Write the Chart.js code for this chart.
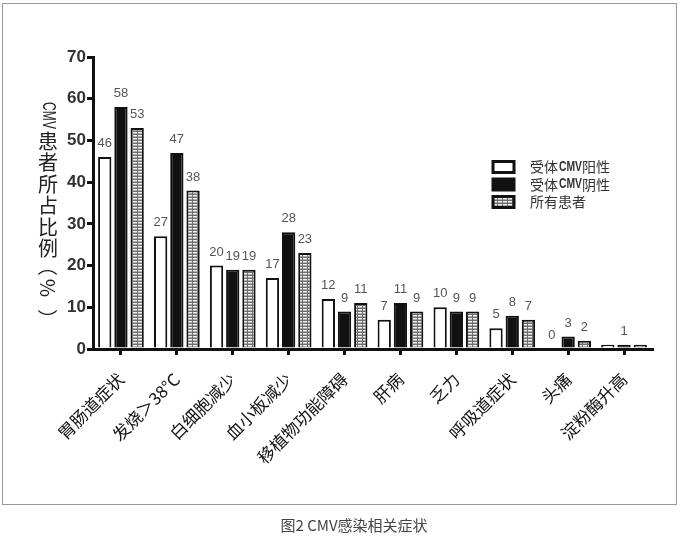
<!DOCTYPE html>
<html>
<head>
<meta charset="utf-8">
<script src="https://cdn.jsdelivr.net/npm/chart.js@4"></script>
<style>
  body { margin: 0; background: #fff; width: 684px; height: 541px; position: relative; overflow: hidden; }
  #frame { position: absolute; left: 2px; top: 3px; width: 675px; height: 502px; border: 1px solid #999; box-sizing: border-box; }
  #chart { position: absolute; left: 0; top: 0; }
  #caption { position: absolute; left: 12px; width: 684px; top: 514px; text-align: center;
    font: 15px "Noto Sans CJK SC", sans-serif; color: #444; }
</style>
</head>
<body>
<div id="frame"></div>
<canvas id="chart" width="684" height="541"></canvas>
<div id="caption">图2 CMV感染相关症状</div>
<script>
const categories = ['胃肠道症状', '发烧＞38°C', '白细胞减少', '血小板减少', '移植物功能障碍',
                    '肝病', '乏力', '呼吸道症状', '头痛', '淀粉酶升高'];
const seriesNames = ['受体CMV阳性', '受体CMV阴性', '所有患者'];
const cmvPositive = [46, 27, 20, 17, 12, 7, 10, 5, 0, 1];
const cmvNegative = [58, 47, 19, 28, 9, 11, 9, 8, 3, 1];
const allPatients = [53, 38, 19, 23, 11, 9, 9, 7, 2, 1];
// value labels that are not printed in the figure (dataset index -> category index)
const hiddenLabels = { 0: [9], 2: [9] };

// grid-like fill for the "all patients" bars
function makePattern() {
    const c = document.createElement('canvas');
    c.width = 5; c.height = 3;
    const g = c.getContext('2d');
    g.fillStyle = '#6e6e6e';
    g.fillRect(0, 0, 5, 3);
    g.fillStyle = '#f2f2f2';
    g.fillRect(0, 0, 2, 1);
    g.fillRect(3, 0, 2, 1);
    g.fillStyle = '#b0b0b0';
    g.fillRect(0, 1, 2, 1);
    g.fillRect(3, 1, 2, 1);
    return g.createPattern(c, 'repeat');
}
const gridFill = makePattern();
const fills = ['#ffffff', '#111111', gridFill];

const valueLabels = {
    id: 'valueLabels',
    afterDatasetsDraw(chart) {
        const ctx = chart.ctx;
        ctx.save();
        ctx.font = '13px "Liberation Sans", Arial, sans-serif';
        ctx.fillStyle = '#555';
        ctx.textAlign = 'center';
        ctx.textBaseline = 'bottom';
        chart.data.datasets.forEach((ds, di) => {
            const meta = chart.getDatasetMeta(di);
            meta.data.forEach((el, i) => {
                if ((hiddenLabels[di] || []).includes(i)) return;
                ctx.fillText(String(ds.data[i]), el.x, el.y - 7);
            });
        });
        ctx.restore();
    }
};

// draws a latin run squeezed to a given width
function condensed(ctx, text, x, y, width) {
    const w = ctx.measureText(text).width;
    ctx.save();
    ctx.translate(x, y);
    ctx.scale(width / w, 1);
    ctx.textAlign = 'left';
    ctx.fillText(text, 0, 0);
    ctx.restore();
}

const sideTitle = {
    id: 'sideTitle',
    afterDraw(chart) {
        const ctx = chart.ctx;
        const x = 48;
        ctx.save();
        ctx.fillStyle = '#222';
        ctx.textAlign = 'center';
        ctx.textBaseline = 'middle';
        ctx.font = '18px "Liberation Sans", Arial, sans-serif';
        ctx.save();
        ctx.translate(x, 102);
        ctx.rotate(Math.PI / 2);
        condensed(ctx, 'CMV', 0, 0, 27);
        ctx.restore();
        ctx.font = '20px "Noto Sans CJK SC", sans-serif';
        const chars = ['患', '者', '所', '占', '比', '例'];
        chars.forEach((ch, i) => ctx.fillText(ch, x, 141 + i * 21.5));
        [['（', 266], ['%', 288], ['）', 319]].forEach(([ch, y]) => {
            ctx.save();
            ctx.translate(x, y);
            ctx.rotate(Math.PI / 2);
            ctx.fillText(ch, 0, 0);
            ctx.restore();
        });
        ctx.restore();
    }
};

const boxLegend = {
    id: 'boxLegend',
    afterDraw(chart) {
        const ctx = chart.ctx;
        ctx.save();
        ctx.textBaseline = 'middle';
        seriesNames.forEach((name, i) => {
            const y = 167 + i * 17.5;
            ctx.fillStyle = fills[i];
            ctx.fillRect(493, y - 5.5, 21, 11);
            ctx.strokeStyle = '#111';
            ctx.lineWidth = 3;
            ctx.strokeRect(493, y - 5.5, 21, 11);
            ctx.fillStyle = '#333';
            ctx.font = '14px "Noto Sans CJK SC", sans-serif';
            const parts = name.split('CMV');
            if (parts.length === 2) {
                ctx.fillText(parts[0], 530, y);
                const w0 = ctx.measureText(parts[0]).width;
                ctx.font = 'bold 14px "Liberation Sans", Arial, sans-serif';
                condensed(ctx, 'CMV', 530 + w0 + 1, y, 23);
                ctx.font = '14px "Noto Sans CJK SC", sans-serif';
                ctx.fillText(parts[1], 530 + w0 + 24, y);
            } else {
                ctx.fillText(name, 530, y);
            }
        });
        ctx.restore();
    }
};

const ctx = document.getElementById('chart').getContext('2d');
new Chart(ctx, {
    type: 'bar',
    data: {
        labels: categories,
        datasets: [cmvPositive, cmvNegative, allPatients].map((vals, i) => ({
            label: seriesNames[i],
            data: vals,
            backgroundColor: fills[i],
            borderColor: '#111',
            borderWidth: 2,
            categoryPercentage: 0.87,
            barPercentage: 0.82
        }))
    },
    options: {
        responsive: false,
        animation: false,
        layout: { padding: { top: 57, right: 32, left: 0, bottom: 0 } },
        plugins: { legend: { display: false }, tooltip: { enabled: false } },
        scales: {
            x: {
                afterFit(scale) { scale.height = 192; },
                border: { display: true, width: 3, color: '#111' },
                grid: { display: true, drawOnChartArea: false, offset: false, tickLength: 6, lineWidth: 3, color: '#111' },
                ticks: {
                    minRotation: 45, maxRotation: 45, padding: 14,
                    color: '#111',
                    font: { family: '"Noto Sans CJK SC", sans-serif', size: 17 }
                }
            },
            y: {
                min: 0, max: 70,
                afterFit(scale) { scale.width = 93; },
                border: { display: true, width: 3, color: '#111' },
                grid: { display: true, drawOnChartArea: false, tickLength: 6, lineWidth: 3, color: '#111' },
                ticks: {
                    stepSize: 10, padding: 1,
                    color: '#333',
                    font: { family: '"Liberation Sans", Arial, sans-serif', size: 17, weight: 'bold' }
                }
            }
        }
    },
    plugins: [valueLabels, sideTitle, boxLegend]
});
</script>
</body>
</html>
